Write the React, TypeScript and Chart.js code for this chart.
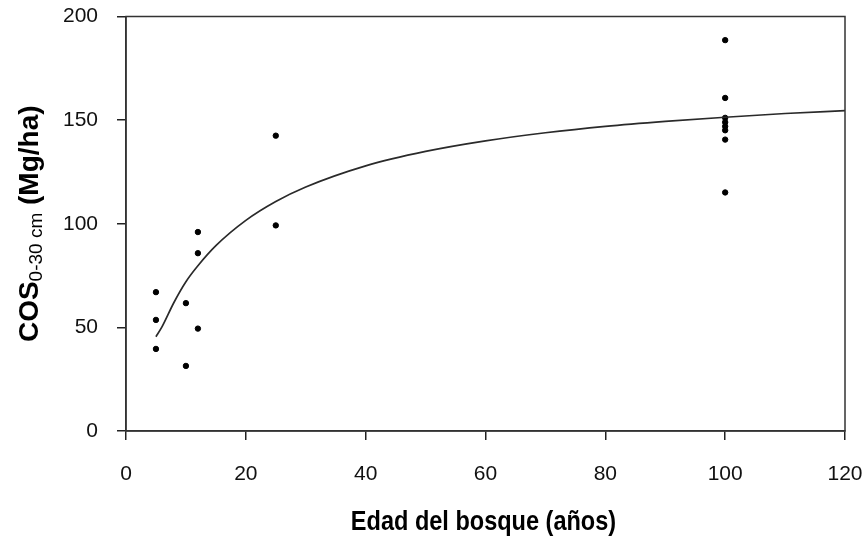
import React, { useEffect, useRef } from "react";
import { Chart, registerables } from "chart.js";

Chart.register(...registerables);

// Observed soil organic carbon (COS 0-30 cm, Mg/ha) by forest age (years)
const ageValues = [5, 5, 5, 10, 10, 12, 12, 12, 25, 25, 100, 100, 100, 100, 100, 100, 100, 100];
const cosValues = [67, 53.6, 39.6, 61.7, 31.4, 96, 85.8, 49.4, 142.5, 99.2, 188.6, 160.7, 151.1, 149, 147, 145.1, 140.6, 115.1];

// Fitted trend curve
const curveAge = [5, 6, 8, 10, 12, 15, 20, 25, 30, 40, 50, 60, 70, 80, 90, 100, 110, 120];
const curveCos = [45.5, 50.2, 62, 72, 79.7, 89.4, 101.6, 110.7, 117.7, 127.9, 134.9, 140, 143.9, 147, 149.4, 151.4, 153.2, 154.6];

const xTicks = [0, 20, 40, 60, 80, 100, 120];
const yTicks = [0, 50, 100, 150, 200];

const xTitle = "Edad del bosque (años)";
const yTitleMain = "COS";
const yTitleSub = "0-30 cm";
const yTitleEnd = " (Mg/ha)";

const FONT = "'Liberation Sans', Arial, sans-serif";

function zeroPad(s: any) {
  s.paddingLeft = 0;
  s.paddingRight = 0;
  s.paddingTop = 0;
  s.paddingBottom = 0;
}

export default function App() {
  const ref = useRef<HTMLCanvasElement | null>(null);

  useEffect(() => {
    if (!ref.current) return;

    const frame = {
      id: "frameAndTitles",
      afterDraw(chart: any) {
        const { ctx, chartArea } = chart;
        ctx.save();
        ctx.strokeStyle = "#333";
        ctx.lineWidth = 1.5;
        ctx.strokeRect(chartArea.left, chartArea.top, chartArea.right - chartArea.left, chartArea.bottom - chartArea.top);
        ctx.restore();

        // x title (narrow look)
        ctx.save();
        const cx = (chartArea.left + chartArea.right) / 2;
        ctx.translate(cx - 2, 530);
        ctx.scale(0.84, 1);
        ctx.font = `bold 28px ${FONT}`;
        ctx.fillStyle = "#000";
        ctx.textAlign = "center";
        ctx.textBaseline = "alphabetic";
        ctx.fillText(xTitle, 0, 0);
        ctx.restore();

        // y title with subscript
        ctx.save();
        const cy = (chartArea.top + chartArea.bottom) / 2;
        ctx.translate(38, cy);
        ctx.rotate(-Math.PI / 2);
        const mainFont = `bold 28px ${FONT}`;
        const subFont = `19px ${FONT}`;
        ctx.font = mainFont;
        const w1 = ctx.measureText(yTitleMain).width;
        const w3 = ctx.measureText(yTitleEnd).width;
        ctx.font = subFont;
        const w2 = ctx.measureText(yTitleSub).width;
        const total = w1 + w2 + w3;
        let x = -total / 2;
        ctx.fillStyle = "#000";
        ctx.textBaseline = "alphabetic";
        ctx.textAlign = "left";
        ctx.font = mainFont;
        ctx.fillText(yTitleMain, x, 0);
        x += w1;
        ctx.font = subFont;
        ctx.fillText(yTitleSub, x, 4);
        x += w2;
        ctx.font = mainFont;
        ctx.fillText(yTitleEnd, x, 0);
        ctx.restore();
      },
    };

    const chart = new Chart(ref.current, {
      type: "scatter",
      data: {
        datasets: [
          {
            type: "line",
            label: "Ajuste",
            data: curveAge.map((a, i) => ({ x: a, y: curveCos[i] })),
            borderColor: "#2a2a2a",
            borderWidth: 1.7,
            pointRadius: 0,
            fill: false,
            tension: 0.4,
            cubicInterpolationMode: "monotone",
          } as any,
          {
            label: "Observado",
            data: ageValues.map((a, i) => ({ x: a, y: cosValues[i] })),
            backgroundColor: "#000",
            borderColor: "#000",
            pointRadius: 2.7,
            pointStyle: "circle",
          },
        ],
      },
      options: {
        animation: false,
        responsive: true,
        maintainAspectRatio: false,
        layout: { padding: { top: 16.5, right: 19, left: 0, bottom: 0 } },
        plugins: { legend: { display: false }, tooltip: { enabled: false } },
        scales: {
          x: {
            type: "linear",
            min: 0,
            max: 120,
            afterBuildTicks: (s: any) => {
              s.ticks = xTicks.map((v) => ({ value: v }));
            },
            afterFit: (s: any) => {
              s.height = 107;
              zeroPad(s);
            },
            ticks: { color: "#111", font: { family: FONT, size: 21 }, padding: 22, maxRotation: 0 },
            grid: { drawOnChartArea: false, drawTicks: true, tickLength: 9, color: "#222", lineWidth: 1.5 },
            border: { display: true, color: "#333", width: 1.5 },
          },
          y: {
            type: "linear",
            min: 0,
            max: 200,
            afterBuildTicks: (s: any) => {
              s.ticks = yTicks.map((v) => ({ value: v }));
            },
            afterFit: (s: any) => {
              s.width = 126;
              zeroPad(s);
            },
            ticks: { color: "#111", font: { family: FONT, size: 21 }, padding: 19 },
            grid: { drawOnChartArea: false, drawTicks: true, tickLength: 9, color: "#222", lineWidth: 1.5 },
            border: { display: true, color: "#333", width: 1.5 },
          },
        },
      },
      plugins: [frame],
    });
    return () => chart.destroy();
  }, []);

  return (
    <div style={{ position: "absolute", left: 0, top: 0, width: 864, height: 538, background: "#fff" }}>
      <canvas ref={ref} />
    </div>
  );
}
